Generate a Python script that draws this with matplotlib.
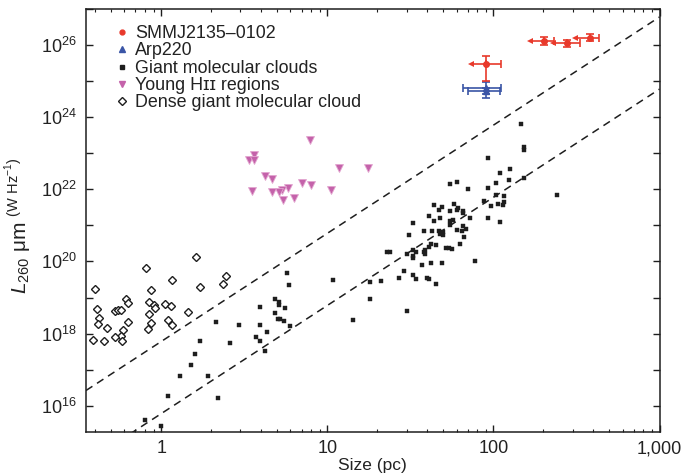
import numpy as np
import matplotlib
matplotlib.use('Agg')
import matplotlib.pyplot as plt
from matplotlib.lines import Line2D
from matplotlib.ticker import FixedLocator, FuncFormatter, NullLocator

plt.rcParams['font.family'] = ['Liberation Sans', 'DejaVu Sans']
plt.rcParams['mathtext.fontset'] = 'custom'
plt.rcParams['mathtext.rm'] = 'Liberation Sans'
plt.rcParams['mathtext.it'] = 'Liberation Sans:italic'
plt.rcParams['mathtext.bf'] = 'Liberation Sans:bold'

# ---------------- data ----------------
# Giant molecular clouds (size in pc, L260um in W/Hz)
gmc_size = [147, 153, 153, 93, 110, 126, 152, 124, 104, 93,
            55, 60, 70, 104, 116, 88, 116, 114, 107, 97,
            242, 44, 49, 47, 58, 61, 60, 55, 66, 66,
            72, 93, 110, 41, 44, 48, 55, 57, 55, 33,
            66, 68, 65, 60, 31, 38, 43, 47, 50, 48,
            50, 67, 63, 42, 45, 52, 54, 56, 41, 39,
            38, 39, 33, 34, 30, 33, 33, 23, 24, 42,
            49, 37, 78, 29, 33, 34, 27, 40, 41, 45,
            18, 21, 10.8, 18, 30, 14.3, 5.71, 5.90, 4.86, 5.09,
            5.14, 5.58, 4.86, 5.02, 5.16, 5.51, 5.98, 3.94, 3.94, 4.36,
            3.73, 3.94, 4.24, 2.14, 2.95, 2.61, 1.72, 1.60, 1.51, 1.30,
            1.91, 2.20, 1.10, 0.80, 1.0]
gmc_lum = [6.3e23, 1.48e23, 1.25e23, 7.2e22, 2.8e22, 3.6e22, 2.1e22, 1.8e22, 1.46e22, 1.06e22,
           1.37e22, 1.55e22, 9.9e21, 6.8e21, 6.35e21, 4.62e21, 4.34e21, 3.58e21, 3.82e21, 3.36e21,
           6.8e21, 3.6e21, 3.16e21, 2.61e21, 3.8e21, 3.09e21, 2.72e21, 2.44e21, 2.44e21, 2.15e21,
           1.59e21, 1.59e21, 1.23e21, 1.81e21, 1.32e21, 1.59e21, 1.32e21, 1.40e21, 1.02e21, 1.16e21,
           9.4e20, 7.9e20, 6.95e20, 7.4e20, 5.4e20, 6.95e20, 6.95e20, 6.95e20, 6.5e20, 5.7e20,
           5.4e20, 4.7e20, 3.0e20, 3.0e20, 2.84e20, 2.35e20, 2.35e20, 2.2e20, 2.5e20, 2.07e20,
           1.82e20, 1.6e20, 2.07e20, 1.82e20, 1.57e20, 1.38e20, 1.24e20, 1.82e20, 1.82e20, 9.0e19,
           9.0e19, 7.9e19, 1.03e20, 5.4e19, 4.2e19, 3.25e19, 3.47e19, 3.47e19, 3.25e19, 2.37e19,
           2.69e19, 2.86e19, 3.05e19, 9.1e18, 4.2e18, 2.38e18, 4.8e19, 2.22e19, 8.9e18, 7.5e18,
           6.35e18, 5.1e18, 3.72e18, 2.54e18, 2.54e18, 2.23e18, 1.59e18, 5.46e18, 1.70e18, 1.11e18,
           8.05e17, 6.24e17, 3.30e17, 2.09e18, 1.73e18, 5.5e17, 6.24e17, 2.72e17, 1.35e17, 6.7e16,
           6.7e16, 1.64e16, 1.87e16, 4.05e15, 2.75e15]

# Dense giant molecular cloud
dense_size = [1.62, 0.815, 1.16, 0.402, 0.874, 1.71, 0.616, 0.633, 0.850, 0.911,
              0.920, 1.06, 1.14, 0.413, 0.531, 0.551, 0.574, 1.45, 0.847, 0.425,
              0.416, 0.635, 0.867, 1.10, 1.16, 0.471, 0.839, 0.590, 0.572, 0.531,
              0.391, 0.454, 0.582, 2.37, 2.45]
dense_lum = [1.32e20, 6.6e19, 3.0e19, 1.69e19, 1.61e19, 1.95e19, 9.1e18, 7.05e18, 7.5e18, 6.08e18,
             5.25e18, 6.6e18, 5.8e18, 4.8e18, 4.15e18, 4.5e18, 4.5e18, 4.06e18, 3.43e18, 2.65e18,
             1.89e18, 2.06e18, 1.97e18, 2.33e18, 1.73e18, 1.40e18, 1.38e18, 1.23e18, 8.6e17, 8.05e17,
             6.5e17, 6.1e17, 6.1e17, 2.43e19, 3.86e19]

# Young HII regions
hii_size = [7.82, 3.60, 3.40, 3.63, 11.7, 17.6, 4.21, 4.68, 7.04, 7.98,
            10.5, 5.82, 5.33, 5.14, 4.68, 3.50, 5.41, 6.32]
hii_lum = [2.26e23, 8.7e22, 6.7e22, 6.3e22, 3.86e22, 3.86e22, 2.28e22, 1.92e22, 1.49e22, 1.31e22,
           9.75e21, 1.11e22, 9.3e21, 8.4e21, 8.6e21, 8.9e21, 5.15e21, 5.85e21]

# SMMJ2135-0102 (size upper limits -> left arrows)
smm_size = [90.7, 201, 279, 379]
smm_size_lo = [73.4, 165, 228, 309]
smm_size_hi = [111, 231, 330, 431]
smm_lum = [3.0e25, 1.27e26, 1.15e26, 1.58e26]
smm_lum_lo = [9.9e24, 9.9e25, 8.7e25, 1.27e26]
smm_lum_hi = [4.9e25, 1.64e26, 1.42e26, 1.99e26]

# Arp220
arp_size = [90, 90]
arp_size_lo = [66, 70]
arp_size_hi = [111, 109]
arp_lum = [6.5e24, 5.3e24]
arp_lum_lo = [3.4e24, 4.3e24]
arp_lum_hi = [9.3e24, 6.5e24]

# reference relations L = norm * size^3
rel_norm = [6.0e17, 6.0e15]
rel_slope = 3

x_ticks = [1, 10, 100, 1000]
x_ticklabels = ['1', '10', '100', '1,000']

# ---------------- figure ----------------
fig = plt.figure(figsize=(6.92, 4.74), dpi=100)
ax = fig.add_axes([86/692, 1 - 431.7/474, (659.5-86)/692, (431.7-9)/474])
ax.set_xscale('log')
ax.set_yscale('log')
ax.set_xlim(0.353, 1000)
ax.set_ylim(1.9e15, 1.0e27)

red = '#e8392b'
blue = '#3a55a6'
mag = '#c462aa'
blk = '#1e1e1e'

# relations
xs = np.array(ax.get_xlim())
for n in rel_norm:
    ax.plot(xs, n * xs**rel_slope, color=blk, lw=1.1, dashes=(5.0, 3.6), zorder=1)

ax.plot(gmc_size, gmc_lum, ls='none', marker='s', ms=3.2, mfc=blk, mec=blk, mew=0.3, zorder=3)
ax.plot(dense_size, dense_lum, ls='none', marker='D', ms=3.6, mfc='white', mec=blk, mew=1.0, zorder=3)
ax.plot(hii_size, hii_lum, ls='none', marker='v', ms=5.8, mfc=mag, mec='#e3a6d0', mew=0.6, zorder=3)

# Arp220
for s, slo, shi, l, llo, lhi in zip(arp_size, arp_size_lo, arp_size_hi, arp_lum, arp_lum_lo, arp_lum_hi):
    ax.errorbar([s], [l], xerr=[[s - slo], [shi - s]], yerr=[[l - llo], [lhi - l]],
                fmt='^', ms=4, color=blue, ecolor=blue, elinewidth=1.2, capsize=2.6, capthick=1.2, zorder=4)

# SMMJ2135-0102
for s, slo, shi, l, llo, lhi in zip(smm_size, smm_size_lo, smm_size_hi, smm_lum, smm_lum_lo, smm_lum_hi):
    ax.errorbar([s], [l], xerr=[[0], [shi - s]], yerr=[[l - llo], [lhi - l]],
                fmt='o', ms=4, color=red, ecolor=red, elinewidth=1.2, capsize=2.6, capthick=1.2, zorder=5)
    ax.plot([slo, s], [l, l], color=red, lw=1.2, zorder=5)
    ax.plot([slo], [l], marker='<', ms=4.5, color=red, mew=0, zorder=5)

# ticks
ax.xaxis.set_major_locator(FixedLocator(x_ticks))
ax.xaxis.set_major_formatter(FuncFormatter(lambda v, p: x_ticklabels[x_ticks.index(int(round(v)))] if int(round(v)) in x_ticks else ''))
minor_x = [m * 10.0**e for e in range(-1, 3) for m in range(2, 10)]
ax.xaxis.set_minor_locator(FixedLocator(minor_x))
ax.xaxis.set_minor_formatter(FuncFormatter(lambda v, p: ''))

y_major = [10.0**e for e in range(15, 28)]
ax.yaxis.set_major_locator(FixedLocator(y_major))
ax.yaxis.set_major_formatter(FuncFormatter(
    lambda v, p: (r'$10^{%d}$' % int(round(np.log10(v)))) if int(round(np.log10(v))) % 2 == 0 else ''))
ax.yaxis.set_minor_locator(NullLocator())

ax.tick_params(which='both', direction='in', top=True, right=True, colors=blk, labelcolor='#222222')
ax.tick_params(which='major', length=5, width=1.0, labelsize=13)
ax.tick_params(which='minor', length=2.5, width=0.8)
ax.tick_params(axis='y', pad=6.5)
ax.tick_params(axis='x', pad=6)
for sp in ax.spines.values():
    sp.set_linewidth(1.1)
    sp.set_color(blk)

ax.set_xlabel('Size (pc)', fontsize=12.5, color='#222222', labelpad=1)
ax.set_ylabel(r'$L_{260}$ μm $^{\mathrm{(W\ Hz}^{-1}\mathrm{)}}$', fontsize=15, color='#222222')
ax.yaxis.set_label_coords(-0.090, 0.488)

# legend
handles = [
    Line2D([], [], ls='none', marker='o', ms=3.5, color=red),
    Line2D([], [], ls='none', marker='^', ms=4, color=blue),
    Line2D([], [], ls='none', marker='s', ms=3.2, color=blk),
    Line2D([], [], ls='none', marker='v', ms=5, color=mag),
    Line2D([], [], ls='none', marker='D', ms=3.6, mfc='white', mec=blk, mew=1.0),
]
labels = ['SMMJ2135–0102', 'Arp220', 'Giant molecular clouds', 'Young Hɪɪ regions',
          'Dense giant molecular cloud']
leg = ax.legend(handles, labels, loc='upper left', bbox_to_anchor=(0.051, 0.962), frameon=False,
                borderpad=0, borderaxespad=0, handlelength=0.8, handletextpad=0.3,
                labelspacing=0.02, fontsize=12.9)
for t in leg.get_texts():
    t.set_color('#222222')

fig.savefig('out.png', dpi=100)
